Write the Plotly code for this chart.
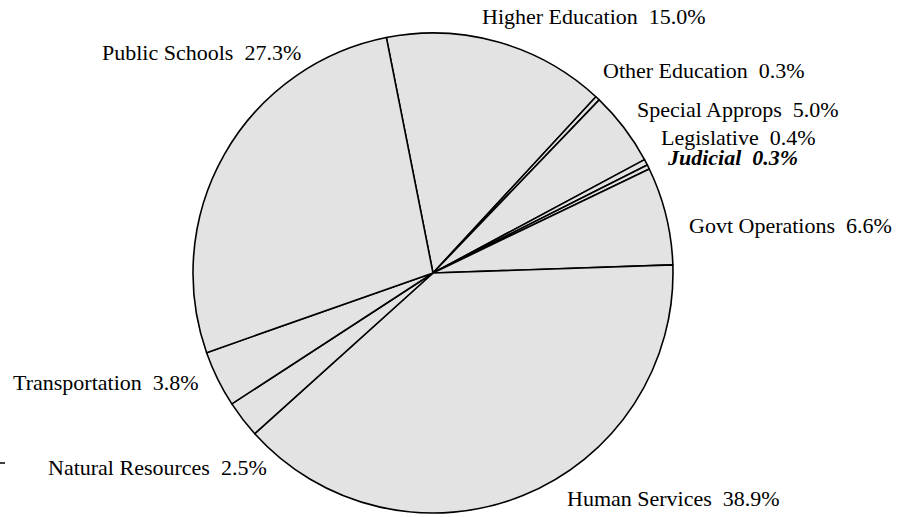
import plotly.graph_objects as go

# ---- data ----
categories = ["Higher Education", "Other Education", "Special Approps", "Legislative",
              "Judicial", "Govt Operations", "Human Services", "Natural Resources",
              "Transportation", "Public Schools"]
values = [15.0, 0.3, 5.0, 0.4, 0.3, 6.6, 38.9, 2.5, 3.8, 27.3]

# ---- label layout (pixel positions in the 910x517 canvas) ----
W, H = 910, 517
label_pos = {
    "Higher Education": (707, 17, "right"),
    "Other Education": (602, 70, "left"),
    "Special Approps": (636, 110, "left"),
    "Legislative": (660, 137, "left"),
    "Judicial": (666, 158, "left"),
    "Govt Operations": (688, 225, "left"),
    "Human Services": (566, 498, "left"),
    "Natural Resources": (47, 467, "left"),
    "Transportation": (12, 382, "left"),
    "Public Schools": (101, 52, "left"),
}

cx, cy, r = 433, 273, 240

fig = go.Figure(go.Pie(
    labels=categories,
    values=values,
    sort=False,
    direction="clockwise",
    rotation=-11.2,
    textinfo="none",
    hoverinfo="label+value",
    marker=dict(colors=["#e3e3e3"] * len(values), line=dict(color="black", width=1.6)),
    domain=dict(x=[(cx - r) / W, (cx + r) / W], y=[(H - cy - r) / H, (H - cy + r) / H]),
    showlegend=False,
))

font_family = "Liberation Serif, Times New Roman, serif"
annotations = []
for cat, val in zip(categories, values):
    px, py, anchor = label_pos[cat]
    txt = f"{cat}\u00a0\u00a0{val:.1f}%"
    if cat == "Judicial":
        txt = f"<b><i>{txt}</i></b>"
    annotations.append(dict(
        x=px / W, y=1 - py / H, xref="paper", yref="paper",
        xanchor=anchor, yanchor="middle", showarrow=False, text=txt,
        font=dict(family=font_family, size=22, color="black"),
        borderpad=0,
    ))

fig.update_layout(
    width=W, height=H,
    margin=dict(l=0, r=0, t=0, b=0),
    paper_bgcolor="white", plot_bgcolor="white",
    annotations=annotations,
    shapes=[dict(type="line", xref="paper", yref="paper",
                 x0=0, x1=5 / W, y0=1 - 463 / H, y1=1 - 463 / H,
                 line=dict(color="black", width=1.5))],
)

fig.write_html(
    "out.html",
    config={"displayModeBar": False},
    post_script="document.body.style.margin='0';document.body.style.overflow='hidden';",
)
